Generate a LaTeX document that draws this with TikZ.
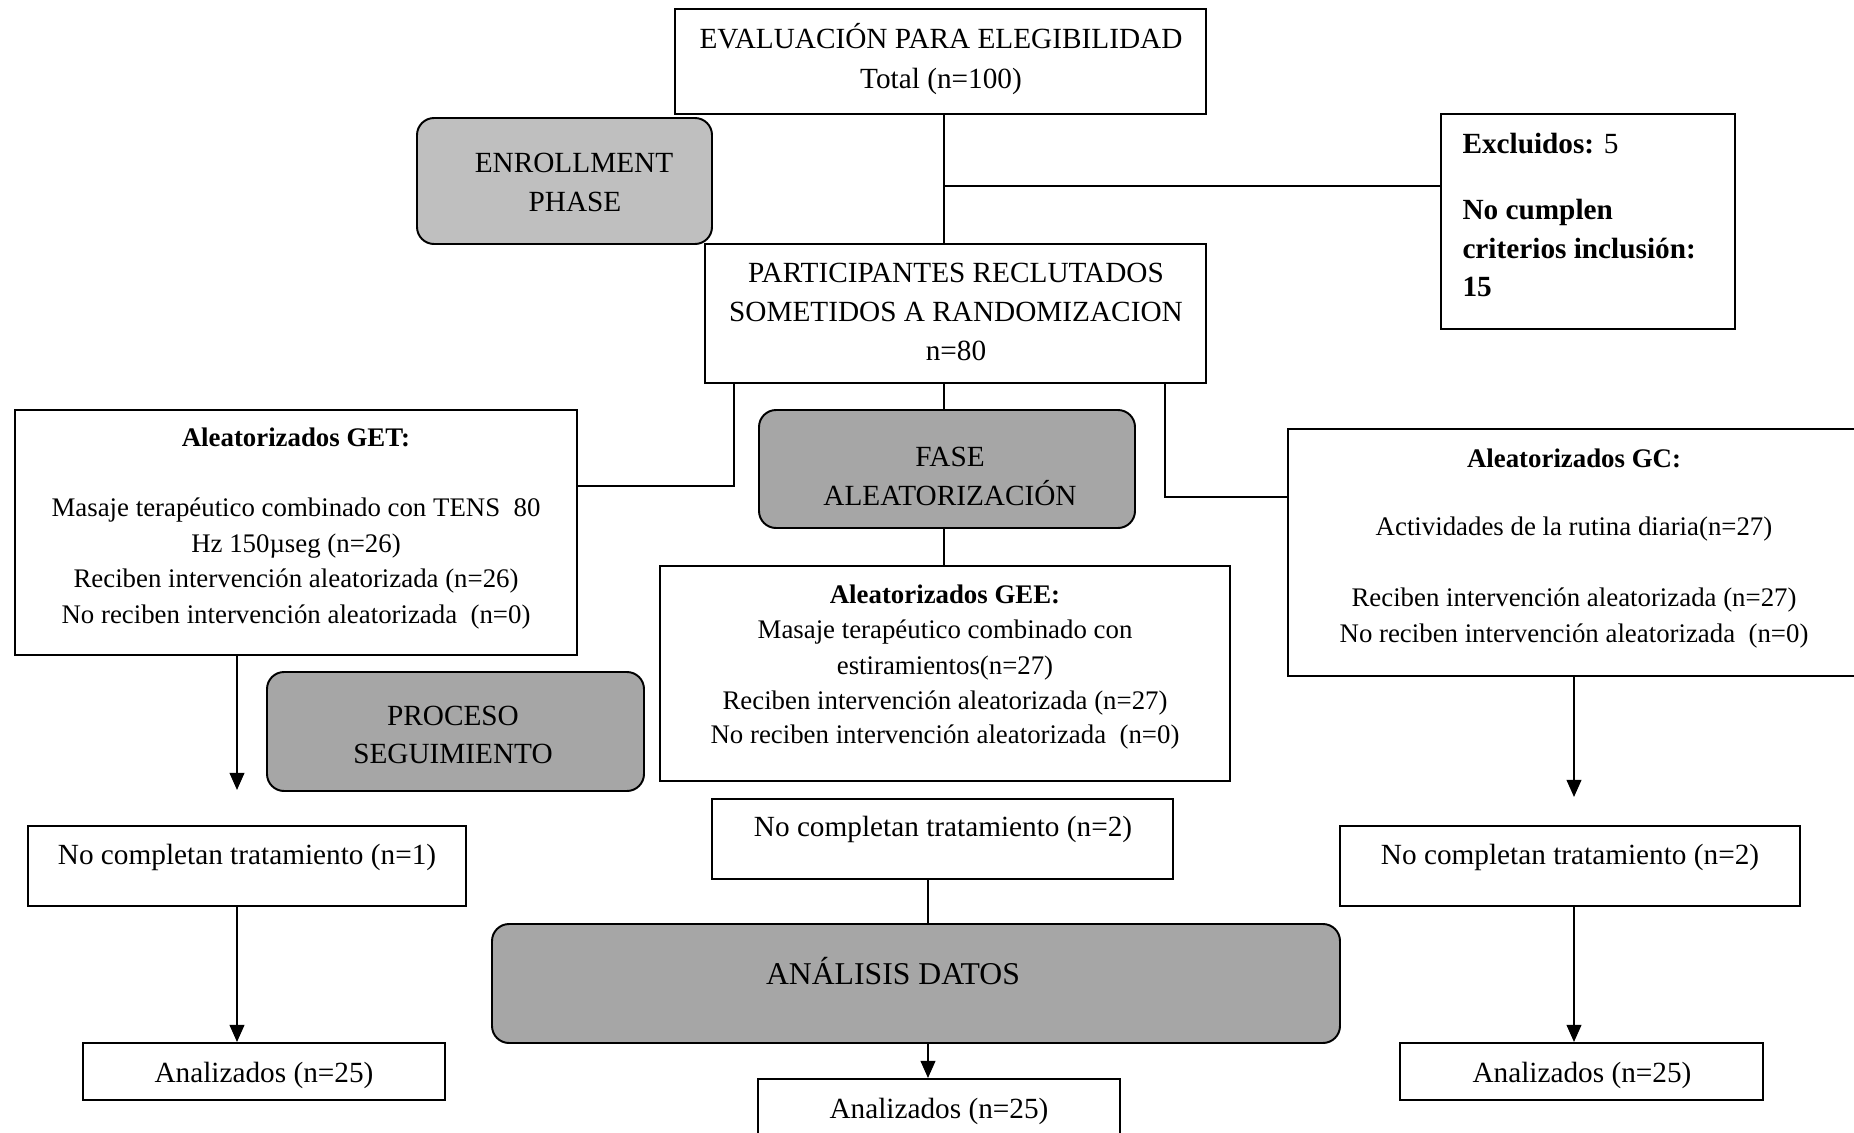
\documentclass[tikz,border=0pt]{standalone}
\usepackage{fontspec}
\setmainfont{Liberation Serif}
\usetikzlibrary{fit,arrows.meta}
\definecolor{phlight}{RGB}{191,191,191}
\definecolor{phdark}{RGB}{166,166,166}
\begin{document}
\begin{tikzpicture}[x=0.41pt,y=-0.41pt,
  bx/.style={draw,line width=0.8pt,inner sep=0pt},
  ph/.style={bx,rounded corners=7pt,fill=phdark},
  ln/.style={line width=0.8pt},
  arr/.style={line width=0.8pt,-{Triangle[length=7pt,width=6pt]}},
  t12/.style={inner sep=0pt,anchor=base,font=\fontsize{12}{14}\selectfont},
  t11/.style={inner sep=0pt,anchor=base,font=\fontsize{11}{13}\selectfont},
  b11/.style={inner sep=0pt,anchor=base,font=\fontsize{11}{13}\selectfont\bfseries},
  t13/.style={inner sep=0pt,anchor=base,font=\fontsize{13}{15}\selectfont},
  tl12/.style={inner sep=0pt,anchor=base west,font=\fontsize{12}{14}\selectfont}]
\useasboundingbox (0,0) rectangle (1854,1133);
\fill[white] (0,0) rectangle (1854,1133);

% boxes
\node[bx,fit={(675,9)(1206,114)}] (eval) {};
\node[ph,fill=phlight,fit={(417,118)(712,244)}] (enroll) {};
\node[bx,fit={(1441,114)(1735,329)}] (excl) {};
\node[bx,fit={(705,244)(1206,383)}] (part) {};
\node[ph,fit={(759,410)(1135,528)}] (fase) {};
\node[bx,fit={(15,410)(577,655)}] (get) {};
\node[bx,fit={(1288,429)(1862,676)}] (gc) {};
\node[bx,fit={(660,566)(1230,781)}] (gee) {};
\node[ph,fit={(267,672)(644,791)}] (proceso) {};
\node[bx,fit={(28,826)(466,906)}] (ncget) {};
\node[bx,fit={(712,799)(1173,879)}] (ncgee) {};
\node[bx,fit={(1340,826)(1800,906)}] (ncgc) {};
\node[ph,fit={(492,924)(1340,1043)}] (analisis) {};
\node[bx,fit={(83,1043)(445,1100)}] (anget) {};
\node[bx,fit={(758,1079)(1120,1142)}] (angee) {};
\node[bx,fit={(1400,1043)(1763,1100)}] (angc) {};

% texts
\node[t12] (ev1) at (941,48) {EVALUACIÓN PARA ELEGIBILIDAD};
\node[t12] (ev2) at (941,88) {Total (n=100)};
\node[t12] (en1) at (574,172) {ENROLLMENT};
\node[t12] (en2) at (575,211) {PHASE};
\node[tl12] (ex1) at (1462,153) {\textbf{Excluidos:} 5};
\node[tl12] (ex2) at (1462,219) {\textbf{No cumplen}};
\node[tl12] (ex3) at (1462,258) {\textbf{criterios inclusión:}};
\node[tl12] (ex4) at (1462,296) {\textbf{15}};
\node[t12] (pa1) at (956,282) {PARTICIPANTES RECLUTADOS};
\node[t12] (pa2) at (956,321) {SOMETIDOS A RANDOMIZACION};
\node[t12] (pa3) at (956,360) {n=80};
\node[t12] (fa1) at (950,466) {FASE};
\node[t12] (fa2) at (950,505) {ALEATORIZACIÓN};
\node[b11] (ge0) at (296,446) {Aleatorizados GET:};
\node[t11] (ge1) at (296,516) {Masaje terapéutico combinado con TENS\ \ 80};
\node[t11] (ge2) at (296,552) {Hz 150µseg (n=26)};
\node[t11] (ge3) at (296,587) {Reciben intervención aleatorizada (n=26)};
\node[t11] (ge4) at (296,623) {No reciben intervención aleatorizada\ \ (n=0)};
\node[b11] (gc0) at (1574,467) {Aleatorizados GC:};
\node[t11] (gc1) at (1574,535) {Actividades de la rutina diaria(n=27)};
\node[t11] (gc2) at (1574,606) {Reciben intervención aleatorizada (n=27)};
\node[t11] (gc3) at (1574,642) {No reciben intervención aleatorizada\ \ (n=0)};
\node[b11] (gx0) at (945,603) {Aleatorizados GEE:};
\node[t11] (gx1) at (945,638) {Masaje terapéutico combinado con};
\node[t11] (gx2) at (945,674) {estiramientos(n=27)};
\node[t11] (gx3) at (945,709) {Reciben intervención aleatorizada (n=27)};
\node[t11] (gx4) at (945,743) {No reciben intervención aleatorizada\ \ (n=0)};
\node[t12] (pr1) at (453,725) {PROCESO};
\node[t12] (pr2) at (453,763) {SEGUIMIENTO};
\node[t12] (nc1) at (247,864) {No completan tratamiento (n=1)};
\node[t12] (nc2) at (943,836) {No completan tratamiento (n=2)};
\node[t12] (nc3) at (1570,864) {No completan tratamiento (n=2)};
\node[t13] (an0) at (893,984) {ANÁLISIS DATOS};
\node[t12] (an1) at (264,1082) {Analizados (n=25)};
\node[t12] (an2) at (939,1118) {Analizados (n=25)};
\node[t12] (an3) at (1582,1082) {Analizados (n=25)};

% connectors
\coordinate (jx) at (944,186);
\draw[ln] (eval.south -| jx) -- (part.north -| jx);
\draw[ln] (jx) -- (excl.west |- jx);
\coordinate (pl) at (734,486);
\draw[ln] (part.south -| pl) -- (pl) -- (get.east |- pl);
\coordinate (pr) at (1165,497);
\draw[ln] (part.south -| pr) -- (pr) -- (gc.west |- pr);
\draw[ln] (part.south -| jx) -- (fase.north -| jx);
\draw[ln] (fase.south -| jx) -- (gee.north -| jx);
\coordinate (cl) at (237,790);
\draw[arr] (get.south -| cl) -- (cl);
\draw[arr] (ncget.south -| cl) -- (anget.north -| cl);
\coordinate (cr) at (1574,797);
\draw[arr] (gc.south -| cr) -- (cr);
\draw[arr] (ncgc.south -| cr) -- (angc.north -| cr);
\coordinate (cm) at (928,0);
\draw[ln] (ncgee.south -| cm) -- (analisis.north -| cm);
\draw[arr] (analisis.south -| cm) -- (angee.north -| cm);
\end{tikzpicture}
\end{document}
